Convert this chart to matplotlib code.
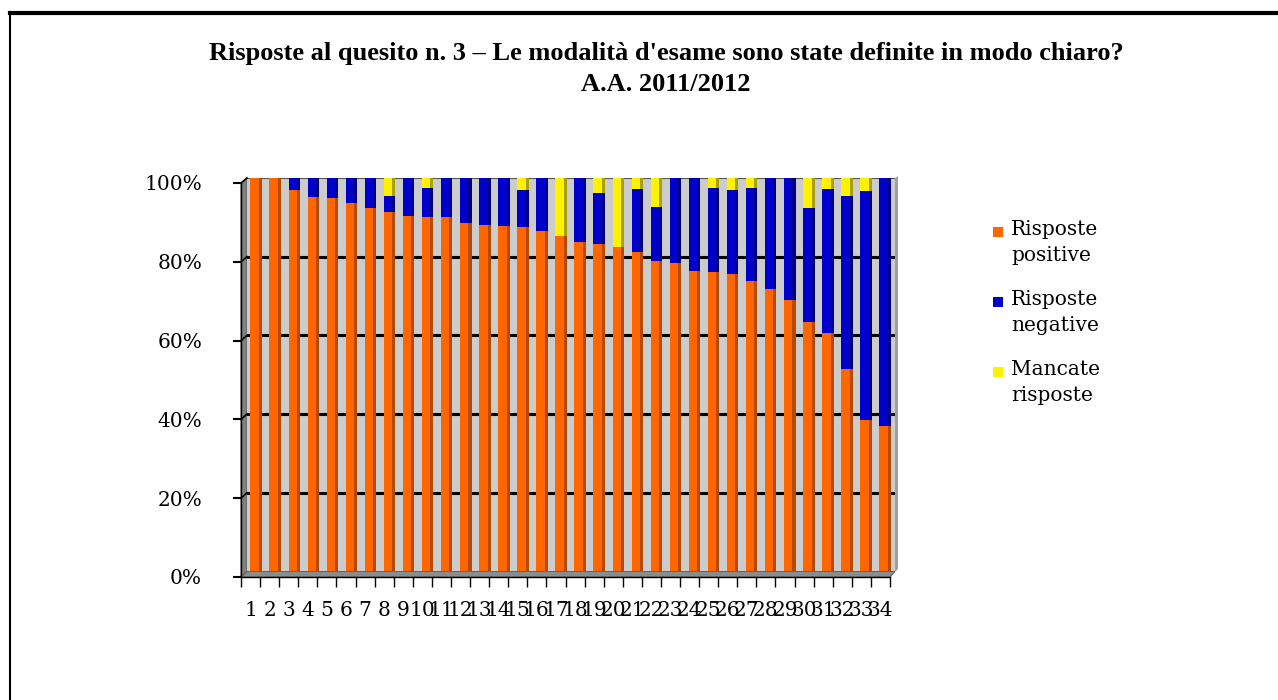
import matplotlib
matplotlib.use("Agg")
import matplotlib.pyplot as plt
from matplotlib.patches import Polygon, Rectangle
from matplotlib.lines import Line2D
import numpy as np

categories = [str(i) for i in range(1, 35)]
positive = [100, 100, 96.9, 95.2, 94.8, 93.6, 92.3, 91.3, 90.3, 90.2, 90.2, 88.6, 88.1, 87.8,
            87.6, 86.5, 85.3, 83.8, 83.2, 82.5, 81.3, 79.0, 78.5, 76.4, 76.2, 75.6, 73.8, 71.8,
            69.0, 63.5, 60.7, 51.4, 38.5, 37.0]
negative = [0, 0, 3.1, 4.8, 5.2, 6.4, 7.7, 4.1, 9.7, 7.3, 9.8, 11.4, 11.9, 12.2,
            9.4, 13.5, 0, 16.2, 12.9, 0, 15.8, 13.7, 21.5, 23.6, 21.3, 21.3, 23.6, 28.2,
            31.0, 28.9, 36.4, 44.0, 58.3, 63.0]
missing = [0, 0, 0, 0, 0, 0, 0, 4.6, 0, 2.5, 0, 0, 0, 0,
           3.0, 0, 14.7, 0, 3.9, 17.5, 2.9, 7.3, 0, 0, 2.5, 3.1, 2.6, 0,
           0, 7.6, 2.9, 4.6, 3.2, 0]
series_names = ["Risposte\npositive", "Risposte\nnegative", "Mancate\nrisposte"]
y_ticks = [0, 20, 40, 60, 80, 100]
y_labels = ["0%", "20%", "40%", "60%", "80%", "100%"]
title = "Risposte al quesito n. 3 \u2013 Le modalità d'esame sono state definite in modo chiaro?\nA.A. 2011/2012"

face_colors = ["#FF6600", "#0000CC", "#FFF200"]
side_colors = ["#B84A00", "#000080", "#A8A000"]

W, H = 1278, 700
fig = plt.figure(figsize=(W / 100, H / 100), dpi=100)
fig.patch.set_facecolor("white")

def fx(px):
    return px / W

def fy(py):
    return 1 - py / H

# back wall axes (bars)
bx0, bx1, by0, by1 = 247, 895, 571.4, 178
ax = fig.add_axes([fx(bx0), fy(by0), fx(bx1 - bx0), (by0 - by1) / H])
ax.set_facecolor("#CCCCCC")
ax.set_xlim(0.5, 34.5)
ax.set_ylim(0, 100)
for s in ax.spines.values():
    s.set_visible(False)
ax.set_xticks([])
ax.set_yticks([])
for g in y_ticks[1:-1]:
    ax.axhline(g, color="black", lw=2.2, zorder=1)
ax.axhline(100, color="#555555", lw=1.5, zorder=1)

x = np.arange(1, 35)
pos = np.array(positive)
neg = np.array(negative)
mis = np.array(missing)
bottoms = [np.zeros(34), pos, pos + neg]
vals = [pos, neg, mis]
for v, b, fc, sc in zip(vals, bottoms, face_colors, side_colors):
    ax.bar(x - 0.1, v, width=0.44, bottom=b, color=fc, zorder=3, linewidth=0)
    ax.bar(x + 0.2, v, width=0.16, bottom=b, color=sc, zorder=3, linewidth=0)

# front axes (ticks / labels)
fx0, fx1, fy0, fy1 = 241, 890, 577, 183
fa = fig.add_axes([fx(fx0), fy(fy0), fx(fx1 - fx0), (fy0 - fy1) / H])
fa.patch.set_visible(False)
fa.set_xlim(0.5, 34.5)
fa.set_ylim(0, 100)
fa.spines["top"].set_visible(False)
fa.spines["right"].set_visible(False)
fa.spines["left"].set_linewidth(1.0)
fa.spines["bottom"].set_linewidth(1.0)
fa.set_yticks(y_ticks)
fa.set_yticklabels(y_labels, fontfamily="DejaVu Serif", fontsize=14.5)
fa.set_xticks(np.arange(0.5, 35, 1))
fa.set_xticklabels([])
fa.set_xticks(x, minor=True)
fa.set_xticklabels(categories, minor=True, fontfamily="DejaVu Serif", fontsize=14.5)
fa.tick_params(axis="y", length=6, width=1.5, pad=22)
fa.tick_params(axis="x", which="major", length=7, width=1)
fa.tick_params(axis="x", which="minor", length=0, pad=17)

# 3D walls
left_wall = Polygon([(fx(fx0), fy(fy1)), (fx(bx0), fy(by1)), (fx(bx0), fy(by0)), (fx(fx0), fy(fy0))],
                    closed=True, transform=fig.transFigure, facecolor="#808080", edgecolor="#606060",
                    lw=0.8, zorder=0)
floor = Polygon([(fx(fx0), fy(fy0)), (fx(bx0), fy(by0)), (fx(bx1), fy(by0)), (fx(fx1), fy(fy0))],
                closed=True, transform=fig.transFigure, facecolor="#8C8C8C", edgecolor="#606060",
                lw=0.8, zorder=0)
right_wall = Polygon([(fx(bx1), fy(by1)), (fx(bx1 + 3), fy(by1 - 2)), (fx(bx1 + 3), fy(by0 - 2)),
                      (fx(bx1), fy(by0))], closed=True, transform=fig.transFigure,
                     facecolor="#A0A0A0", edgecolor="none", zorder=0)
fig.add_artist(left_wall)
fig.add_artist(floor)
fig.add_artist(right_wall)
for t in y_ticks[1:]:
    yf = fy0 - (fy0 - fy1) * t / 100
    yb = by0 - (by0 - by1) * t / 100
    fig.add_artist(Line2D([fx(fx0), fx(bx0)], [fy(yf), fy(yb)], transform=fig.transFigure,
                          color="black", lw=1.2))

# title
fig.text(fx(666), fy(69), title, ha="center", va="center", fontfamily="Liberation Serif",
         fontweight="bold", fontsize=19, linespacing=1.4)

# legend
leg_y = [232, 302, 372]
for name, fc, yy in zip(series_names, face_colors, leg_y):
    fig.add_artist(Rectangle((fx(993), fy(yy + 5)), fx(10), 10 / H, transform=fig.transFigure,
                             facecolor=fc, edgecolor="none"))
    fig.text(fx(1011), fy(yy - 12), name, ha="left", va="top", fontfamily="DejaVu Serif",
             fontsize=14.5, linespacing=1.45)

# frame lines
fig.add_artist(Line2D([fx(10), 1], [fy(13), fy(13)], transform=fig.transFigure, color="black", lw=3))
fig.add_artist(Line2D([fx(10), fx(10)], [fy(13), 0], transform=fig.transFigure, color="black", lw=1.5))

fig.savefig("out.png", dpi=100)
